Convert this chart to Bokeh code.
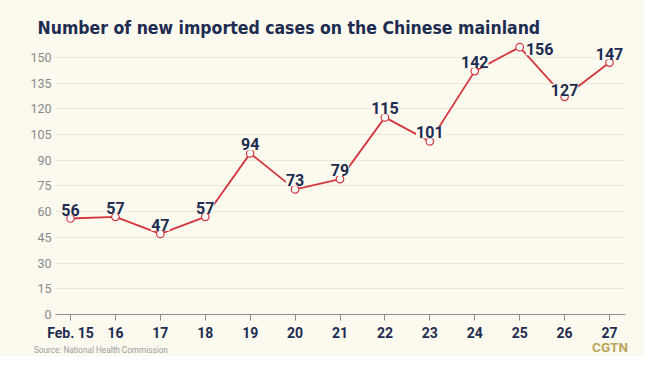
from bokeh.plotting import figure
from bokeh.models import ColumnDataSource, LabelSet, FixedTicker, Range1d, Div
from bokeh.layouts import column
from bokeh.core.properties import value
from bokeh.embed import file_html
from bokeh.resources import INLINE

# ---- data ----
dates = ["Feb. 15", "16", "17", "18", "19", "20", "21", "22", "23", "24", "25", "26", "27"]
cases = [56, 57, 47, 57, 94, 73, 79, 115, 101, 142, 156, 127, 147]
y_ticks = [0, 15, 30, 45, 60, 75, 90, 105, 120, 135, 150]

# label placement (style)
lab_dx = [0, 0, 0, 0, 0, 0, 0, 0, 0, 0, 20, 0, 0]
lab_dy = [3, 3, 3, 3, 3, 3, 3, 3, 3, 3, -8, 1, 3]

BG = "#FCF9EF"
NAVY = "#1D2C50"
RED = "#D2383E"
FONT = "Roboto"
TFONT = "DejaVu Sans Condensed"

idx = list(range(len(dates)))
src = ColumnDataSource(dict(x=idx, y=cases, t=[str(c) for c in cases],
                            dx=lab_dx, dy=lab_dy))

p = figure(width=644, height=343, output_backend="svg", toolbar_location=None,
           x_range=Range1d(-0.334, 12.356), y_range=Range1d(0, 162.2),
           min_border_left=55, min_border_right=19, min_border_top=36, min_border_bottom=28)
p.background_fill_color = BG
p.border_fill_color = BG
p.outline_line_color = None

p.title.text = "Number of new imported cases on the Chinese mainland"
p.title.align = "left"
p.title.offset = -18
p.title.standoff = -3
p.title.text_font = TFONT
p.title.text_font_style = "bold"
p.title.text_font_size = "17.5px"
p.title.text_color = NAVY

p.line("x", "y", source=src, line_color=RED, line_width=1.8)
p.scatter("x", "y", source=src, size=7.5, fill_color="white", line_color=RED, line_width=1.2)

labels = LabelSet(x="x", y="y", text="t", source=src, x_offset="dx", y_offset="dy",
                  text_align="center", text_baseline="bottom",
                  text_font=value(FONT), text_font_style="bold", text_font_size="16px",
                  text_color=NAVY, background_fill_color=BG)
p.add_layout(labels)

# axes
p.xaxis.ticker = FixedTicker(ticks=idx)
p.xaxis.major_label_overrides = {i: d for i, d in enumerate(dates)}
p.xaxis.axis_line_color = "#8E8E8E"
p.xaxis.major_tick_line_color = "#8E8E8E"
p.xaxis.major_tick_out = 6
p.xaxis.major_tick_in = 0
p.xaxis.minor_tick_line_color = None
p.xaxis.major_label_text_font = FONT
p.xaxis.major_label_text_font_style = "bold"
p.xaxis.major_label_text_font_size = "14px"
p.xaxis.major_label_text_color = NAVY
p.xaxis.major_label_standoff = 4

p.yaxis.ticker = FixedTicker(ticks=y_ticks)
p.yaxis.axis_line_color = None
p.yaxis.major_tick_line_color = None
p.yaxis.major_tick_out = 0
p.yaxis.major_tick_in = 0
p.yaxis.minor_tick_line_color = None
p.yaxis.major_label_text_font = FONT
p.yaxis.major_label_text_font_size = "12.5px"
p.yaxis.major_label_text_color = "#8A8A8A"
p.yaxis.major_label_standoff = 4

p.xgrid.grid_line_color = None
p.ygrid.grid_line_color = "#ECE7D6"
p.ygrid.grid_line_width = 1

footer = Div(
    text=('<div style="position:relative;width:644px;height:13px;font-family:Roboto;">'
          '<span style="position:absolute;left:34px;top:3px;font-size:8.2px;line-height:9px;color:#9E9E9E;">'
          'Source: National Health Commission</span>'
          '<span style="position:absolute;right:16px;top:-3px;font-size:13.5px;line-height:14px;'
          'font-weight:bold;color:#BBA65A;">CGTN</span></div>'),
    width=644, height=13, margin=0, styles={"background-color": BG})

layout = column(p, footer, spacing=0, styles={"background-color": BG})

open("out.html", "w").write(file_html(layout, INLINE))
